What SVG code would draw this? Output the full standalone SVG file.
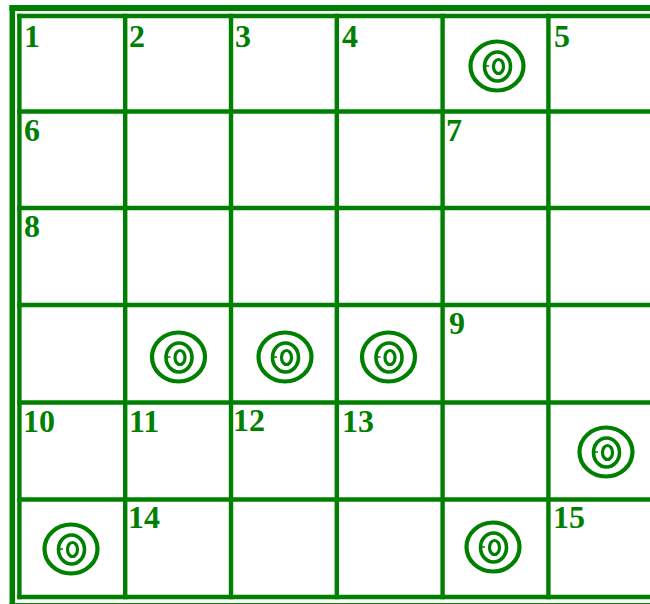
<svg xmlns="http://www.w3.org/2000/svg" xmlns:xlink="http://www.w3.org/1999/xlink" width="650" height="604" viewBox="0 0 650 604">
  <style>
    .frame { stroke: #008000; fill: none; }
    .grid line { stroke: #008000; stroke-width: 4.4; }
    .lbl { font-family: "Liberation Serif", "Times New Roman", serif; font-size: 32px; font-weight: bold; fill: #008000; }
    .ring { fill: none; stroke: #008000; }
  </style>
  <defs>
    <g id="target">
      <ellipse class="ring" cx="0" cy="0" rx="26.5" ry="24.5" stroke-width="4.2"/>
      <ellipse class="ring" cx="0.5" cy="0.5" rx="13" ry="14.5" stroke-width="3.6"/>
      <ellipse class="ring" cx="1.5" cy="0.5" rx="5" ry="7" stroke-width="3.2"/>
      <line x1="-13" y1="0" x2="-8" y2="0" stroke="#008000" stroke-width="1.5"/>
    </g>
  </defs>
  <rect width="650" height="604" fill="#ffffff"/>

  <g id="outer-frame">
    <line class="frame" x1="12.3" y1="5" x2="12.3" y2="604" stroke-width="5.5"/>
    <line class="frame" x1="9.5" y1="8" x2="650" y2="8" stroke-width="6"/>
    <line class="frame" x1="9.5" y1="605" x2="650" y2="605" stroke-width="4"/>
  </g>

  <g id="grid" class="grid">
    <line x1="19.4" y1="13.8" x2="19.4" y2="599.2"/>
    <line x1="125.2" y1="13.8" x2="125.2" y2="599.2"/>
    <line x1="231" y1="13.8" x2="231" y2="599.2"/>
    <line x1="336.8" y1="13.8" x2="336.8" y2="599.2"/>
    <line x1="442.6" y1="13.8" x2="442.6" y2="599.2"/>
    <line x1="548.4" y1="13.8" x2="548.4" y2="599.2"/>
    <line x1="17.2" y1="16" x2="650" y2="16"/>
    <line x1="17.2" y1="111.5" x2="650" y2="111.5"/>
    <line x1="17.2" y1="208" x2="650" y2="208"/>
    <line x1="17.2" y1="305" x2="650" y2="305"/>
    <line x1="17.2" y1="402.5" x2="650" y2="402.5"/>
    <line x1="17.2" y1="499.5" x2="650" y2="499.5"/>
    <line x1="17.2" y1="597" x2="650" y2="597"/>
  </g>

  <g id="labels" class="lbl">
    <text x="24" y="47">1</text>
    <text x="129" y="47">2</text>
    <text x="235" y="47">3</text>
    <text x="342" y="47">4</text>
    <text x="554" y="47">5</text>
    <text x="24" y="141">6</text>
    <text x="446" y="141">7</text>
    <text x="24" y="237">8</text>
    <text x="449" y="334">9</text>
    <text x="23" y="432">10</text>
    <text x="129" y="432">11</text>
    <text x="233" y="431">12</text>
    <text x="342" y="432">13</text>
    <text x="128" y="528">14</text>
    <text x="553" y="528">15</text>
  </g>

  <g id="targets">
    <use xlink:href="#target" x="497" y="66"/>
    <use xlink:href="#target" x="178.5" y="357"/>
    <use xlink:href="#target" x="285" y="357"/>
    <use xlink:href="#target" x="388.5" y="357"/>
    <use xlink:href="#target" x="606" y="452"/>
    <use xlink:href="#target" x="71" y="549"/>
    <use xlink:href="#target" x="493" y="547"/>
  </g>
</svg>
